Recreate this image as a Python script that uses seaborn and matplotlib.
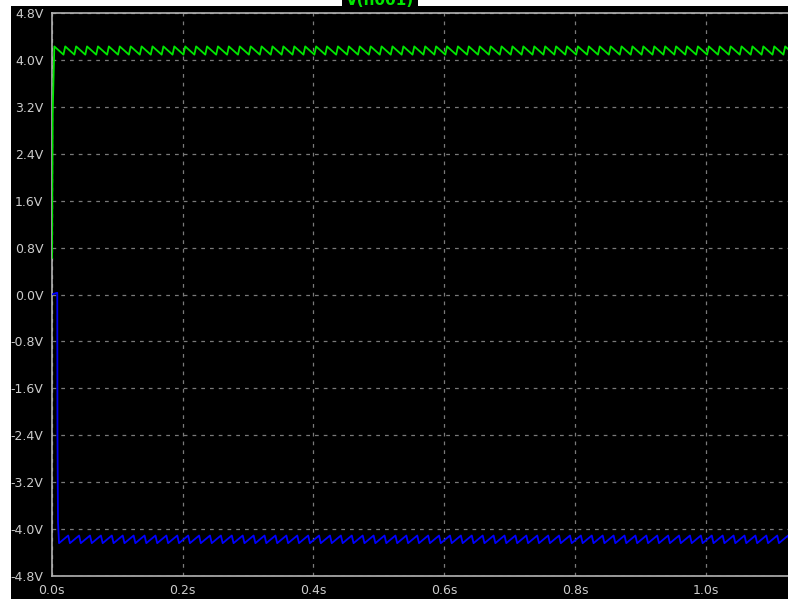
import numpy as np
import pandas as pd
import matplotlib
matplotlib.use("Agg")
import matplotlib.pyplot as plt
import seaborn as sns
from matplotlib.patches import Rectangle

# Axis ticks
time_ticks = [0.0, 0.2, 0.4, 0.6, 0.8, 1.0]
time_labels = ["0.0s", "0.2s", "0.4s", "0.6s", "0.8s", "1.0s"]
volt_ticks = [-4.8, -4.0, -3.2, -2.4, -1.6, -0.8, 0.0, 0.8, 1.6, 2.4, 3.2, 4.0, 4.8]
volt_labels = ["-4.8V", "-4.0V", "-3.2V", "-2.4V", "-1.6V", "-0.8V", "0.0V",
               "0.8V", "1.6V", "2.4V", "3.2V", "4.0V", "4.8V"]

# Simulation window and ripple period (60 Hz mains)
t_stop = 1.125
ripple_period = 1 / 60

# Positive rail: power-up edge, then one ripple cycle (phase in periods)
pos_start_t = [0.0005, 0.0015, 0.0040]
pos_start_v = [0.62, 3.10, 4.23]
pos_cycle_phase = [0.0, 0.84, 1.0]
pos_cycle_v = [4.23, 4.09, 4.23]

# Negative rail: power-up edge, then one ripple cycle
neg_start_t = [0.0, 0.0085, 0.0088, 0.0096, 0.0112]
neg_start_v = [0.0, 0.03, -2.35, -3.88, -4.24]
neg_cycle_phase = [0.0, 0.84, 1.0]
neg_cycle_v = [-4.24, -4.11, -4.24]


def repeat_cycle(t0, phase, values):
    """Lay the recorded ripple cycle end to end from t0 until t_stop."""
    n = int(np.ceil((t_stop - t0) / ripple_period)) + 1
    ts, vs = [], []
    for k in range(n):
        for p, v in zip(phase[:-1], values[:-1]):
            ts.append(t0 + (k + p) * ripple_period)
            vs.append(v)
    return ts, vs


pt, pv = repeat_cycle(pos_start_t[-1], pos_cycle_phase, pos_cycle_v)
nt, nv = repeat_cycle(neg_start_t[-1], neg_cycle_phase, neg_cycle_v)

df = pd.concat([
    pd.DataFrame({"t": pos_start_t[:-1] + pt, "v": pos_start_v[:-1] + pv, "rail": "pos"}),
    pd.DataFrame({"t": neg_start_t[:-1] + nt, "v": neg_start_v[:-1] + nv, "rail": "neg"}),
], ignore_index=True)

sns.set_style("dark", {"axes.facecolor": "black", "figure.facecolor": "black"})
plt.rcParams["font.family"] = ["DejaVu Sans"]

fig = plt.figure(figsize=(7.88, 5.99), dpi=100, facecolor="black")

# White window margins on the top and left edges
fig.patches.append(Rectangle((0, 1 - 6 / 599), 1, 6 / 599, transform=fig.transFigure,
                             facecolor="white", edgecolor="none", zorder=0))
fig.patches.append(Rectangle((0, 0), 11 / 788, 1, transform=fig.transFigure,
                             facecolor="white", edgecolor="none", zorder=0))

ax = fig.add_axes([51.7 / 788, 1 - 576 / 599, 1 - 51.7 / 788, (576 - 13) / 599])
ax.set_facecolor("black")

sns.lineplot(data=df, x="t", y="v", hue="rail", palette={"pos": "#00e600", "neg": "#0000ff"},
             estimator=None, sort=False, legend=False, linewidth=1.3, ax=ax, zorder=3)

ax.set_xlim(0, t_stop)
ax.set_ylim(-4.8, 4.8)
ax.set_xticks(time_ticks)
ax.set_xticklabels(time_labels)
ax.set_yticks(volt_ticks)
ax.set_yticklabels(volt_labels)
ax.set_xlabel("")
ax.set_ylabel("")

grid_col = "#7a7a7a"
ax.grid(True, color=grid_col, linestyle=(0, (3, 4)), linewidth=0.9, zorder=1)
ax.tick_params(axis="both", colors="#a8a8a8", labelcolor="#cccccc", length=5, width=1,
               direction="out", labelsize=9)
ax.tick_params(axis="y", pad=1)
ax.tick_params(axis="x", pad=1, length=5)

for side in ["left", "top", "bottom"]:
    ax.spines[side].set_visible(True)
    ax.spines[side].set_color("#b4b4b4")
    ax.spines[side].set_linewidth(1.2)
ax.spines["right"].set_visible(False)

# Trace name, partly scrolled off the top of the window
fig.text(380 / 788, 1 - 5 / 599, "V(n001)", color="#00e600", fontsize=11, fontweight="bold",
         ha="center", va="baseline",
         bbox=dict(facecolor="black", edgecolor="none", pad=3))

fig.savefig("out.png", dpi=100, facecolor=fig.get_facecolor())
